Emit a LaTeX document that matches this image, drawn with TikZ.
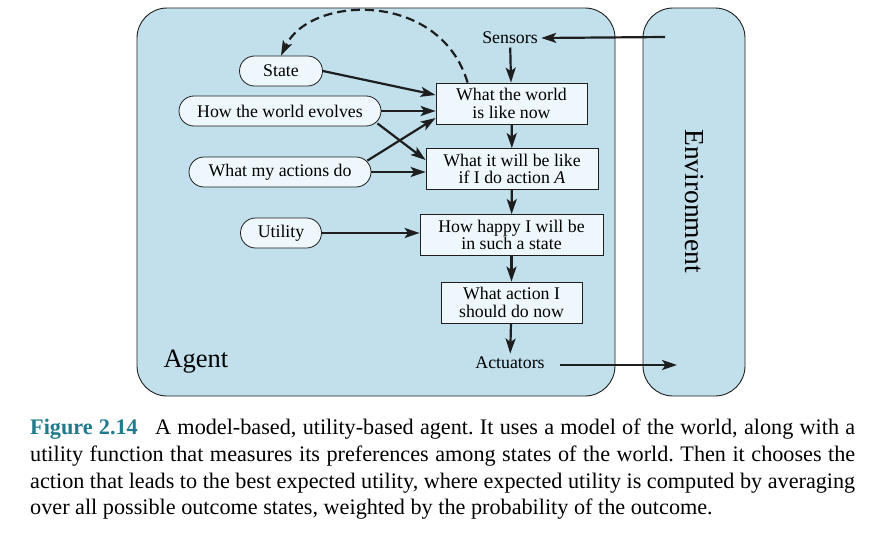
\documentclass[tikz,border=0pt]{standalone}
\usepackage{fontspec}
\setmainfont{Liberation Serif}
\usetikzlibrary{arrows.meta}
\definecolor{agentblue}{RGB}{193,224,236}
\definecolor{nodefill}{RGB}{238,248,252}
\definecolor{figteal}{RGB}{30,122,140}
\definecolor{linegray}{RGB}{30,30,30}
\frenchspacing
\tikzset{
  pill/.style={draw=linegray, line width=0.8pt, fill=nodefill, rounded corners=15pt, minimum height=30pt, inner xsep=8pt, inner ysep=1pt, font=\fontsize{17.8}{19}\selectfont},
  rectbox/.style={draw=linegray, line width=0.8pt, fill=nodefill, align=center, inner xsep=4pt, inner ysep=1pt, minimum height=41pt, font=\fontsize{17.8}{17.5}\selectfont},
  plain/.style={font=\fontsize{17.8}{19}\selectfont},
  tip/.style={-{Stealth[length=15pt,width=10pt,inset=3.5pt]}},
  arr/.style={line width=2.2pt, draw=linegray, tip},
  region/.style={draw=linegray, line width=0.9pt, fill=agentblue, rounded corners=30pt},
  capline/.style={anchor=west, inner sep=0pt, font=\fontsize{22.2}{25}\selectfont}
}
\begin{document}
\begin{tikzpicture}[x=1pt,y=1pt]
\useasboundingbox (0,0) rectangle (888,-535);
% regions
\draw[region] (137,-8) rectangle (615,-396);
\draw[region] (643,-8) rectangle (745,-396);
\node[font=\fontsize{27.5}{30}\selectfont, rotate=-90] (env) at (694,-201) {Environment};
\node[font=\fontsize{26.5}{30}\selectfont, anchor=west] (agent) at (160,-362) {Agent};
% texts
\node[plain] (sensors) at (510,-38) {Sensors};
\node[plain] (actuators) at (510,-363) {Actuators};
\coordinate (envin) at (665,-37);
\coordinate (actstart) at (560,-365);
\coordinate (envout) at (677,-365);
% pills
\node[pill, minimum width=83pt] (state) at (281,-71) {State};
\node[pill, minimum width=202pt] (evolves) at (280,-111) {How the world evolves};
\node[pill, minimum width=182pt] (actions) at (280,-172) {What my actions do};
\node[pill, minimum width=81pt] (utility) at (281,-233) {Utility};
% rect boxes
\node[rectbox, minimum width=151pt] (now) at (511.5,-103.5) {What the world\\is like now};
\node[rectbox, minimum width=172pt] (will) at (512,-169) {What it will be like\\if I do action \textit{A}};
\node[rectbox, minimum width=183pt] (happy) at (511.5,-235) {How happy I will be\\in such a state};
\node[rectbox, minimum width=141pt] (what) at (511.5,-302.5) {What action I\\should do now};
% arrows
\draw[arr] (envin) -- (sensors.east);
\draw[arr] (sensors) -- (now);
\draw[arr] (now) -- (will);
\draw[arr] (will) -- (happy);
\draw[arr] (happy) -- (what);
\draw[arr] (what) -- (actuators);
\draw[line width=2.2pt, draw=linegray] (actstart) -- (615,-365);
\draw[arr] (actstart) -- (envout);
\draw[arr] (state.east) -- (now.west |- 0,-95);
\draw[arr] (evolves.east) -- (now.west |- evolves.east);
\draw[arr] (evolves.south east) ++(-4,3) -- (will.west |- 0,-160);
\draw[arr] (actions.north east) ++(-4,-4) -- (now.west |- 0,-118);
\draw[arr] (actions.east) -- (will.west |- actions.east);
\draw[arr] (utility.east) -- (happy.west |- utility.east);
\draw[line width=2.2pt, draw=linegray, dash pattern=on 9pt off 5pt, tip]
  (now.north west) ++(32,0) .. controls (440,10) and (310,5) .. (state.north);
% caption
\node[capline] (c1) at (30,-429) {\makebox[825pt][s]{\textcolor{figteal}{\textbf{Figure 2.14}}\hspace{0.5em} A model-based, utility-based agent. It uses a model of the world, along with a}};
\node[capline] (c2) at (30,-456) {\makebox[825pt][s]{utility function that measures its preferences among states of the world. Then it chooses the}};
\node[capline] (c3) at (30,-483) {\makebox[825pt][s]{action that leads to the best expected utility, where expected utility is computed by averaging}};
\node[capline] (c4) at (30,-509) {over all possible outcome states, weighted by the probability of the outcome.};
\end{tikzpicture}
\end{document}
